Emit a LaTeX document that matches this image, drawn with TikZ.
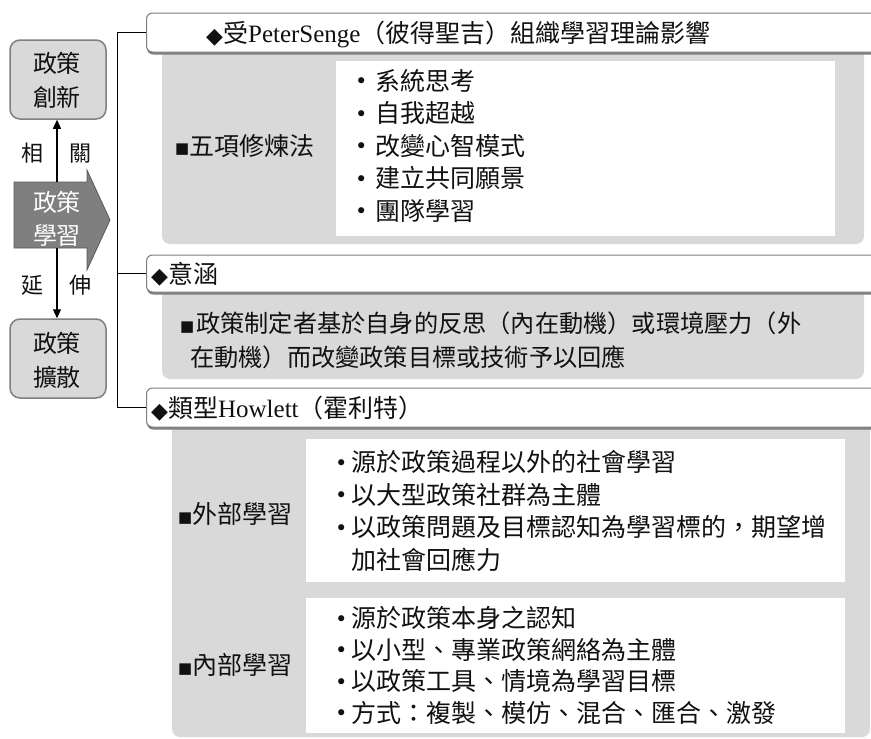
\documentclass[tikz,border=0pt]{standalone}
\usepackage{fontspec}
\setmainfont{Liberation Serif}
\newfontfamily\cjk{Noto Sans CJK TC}
\newfontfamily\dv{DejaVu Sans}
\usetikzlibrary{arrows.meta,shadows}
\definecolor{panelgray}{HTML}{D9D9D9}
\definecolor{edgegray}{HTML}{808080}
\definecolor{darkgray2}{HTML}{7F7F7F}
\definecolor{inkc}{HTML}{111111}
\newcommand\sq{{\dv\fontsize{15}{15}\selectfont\raisebox{1.5pt}{■}}}
\newcommand\dia{{\dv\fontsize{22}{22}\selectfont\raisebox{-0.5pt}{◆}}}
\newcommand\bul[1]{\makebox[#1][l]{\dv\fontsize{21}{21}\selectfont\raisebox{1.5pt}{•}}}
\tikzset{
  txt/.style={inner sep=0pt, anchor=base west, text=inkc, font=\cjk\fontsize{25}{25}\selectfont},
  smalltxt/.style={inner sep=0pt, anchor=base west, text=inkc, font=\cjk\fontsize{24.2}{24.2}\selectfont},
  lefttxt/.style={inner sep=0pt, anchor=base, text=inkc, font=\cjk\fontsize{24}{24}\selectfont},
  sidetxt/.style={inner sep=0pt, anchor=base, text=inkc, font=\cjk\fontsize{22}{22}\selectfont},
  leftbox/.style={draw=edgegray, fill=panelgray, line width=1.5pt, rounded corners=10pt,
    minimum width=96pt, minimum height=79pt, inner sep=0pt},
  header/.style={draw=darkgray2, fill=white, line width=1pt, rounded corners=6pt,
    minimum width=760pt, inner sep=0pt,
    drop shadow={shadow xshift=0.5pt, shadow yshift=-2.5pt, fill=darkgray2, opacity=1}},
  panel/.style={fill=panelgray, rounded corners=8pt},
  whitebox/.style={fill=white},
  tree/.style={draw=black, line width=1pt},
  conn/.style={draw=black, line width=1.2pt, -{Triangle[width=8pt,length=9pt]}},
}
\begin{document}
\begin{tikzpicture}[x=1pt,y=-1pt]
\path[use as bounding box] (0,0) rectangle (871,739);
\fill[white] (0,0) rectangle (871,739);

% ---------- left column ----------
\node[leftbox] (innov) at (58,79.5) {};
\node[lefttxt] (innov1) at (57,72) {政策};
\node[lefttxt] (innov2) at (57,106) {創新};

\node[leftbox] (diff) at (58,358.5) {};
\node[lefttxt] (diff1) at (57,352) {政策};
\node[lefttxt] (diff2) at (57,386) {擴散};

\fill[darkgray2, draw=black!65, line width=0.8pt]
  (14,182) -- (87,182) -- (87,170) -- (110,220) -- (87,270) -- (87,248) -- (14,248) -- cycle;
\coordinate (learnTop) at (57,182);
\coordinate (learnBot) at (57,248);
\node[lefttxt, text=white] (learn1) at (57,211) {政策};
\node[lefttxt, text=white] (learn2) at (57,244) {學習};

\draw[conn] (learnTop) -- (learnTop |- innov.south);
\draw[conn] (learnBot) -- (learnBot |- diff.north);

\node[sidetxt] (rel1) at (32,161.5) {相};
\node[sidetxt] (rel2) at (80,161.5) {關};
\node[sidetxt] (ext1) at (32,293.5) {延};
\node[sidetxt] (ext2) at (80,293.5) {伸};

% ---------- panels ----------
\fill[panel] (162,48) rectangle (864,244);
\fill[whitebox] (336,61) rectangle (835,236);

\fill[panel] (162,288) rectangle (864,379);

\fill[panel] (172,420) rectangle (870,737);
\fill[whitebox] (306,439) rectangle (845,582);
\fill[whitebox] (306,598) rectangle (845,733);

% ---------- headers ----------
\node[header, minimum height=39pt, anchor=west] (h1) at (146,32.5) {};
\node[header, minimum height=37pt, anchor=west] (h2) at (146,273.5) {};
\node[header, minimum height=39pt, anchor=west] (h3) at (146,407.5) {};

\node[txt] (h1t) at (206,42.5) {\dia 受{\rmfamily PeterSenge}（彼得聖吉）組織學習理論影響};
\node[txt] (h2t) at (151,283) {\dia 意涵};
\node[txt] (h3t) at (151,417.5) {\dia 類型{\rmfamily Howlett}（霍利特）};

% ---------- tree ----------
\coordinate (trunk) at (117,32.5);
\draw[tree] (h1.west) -- (trunk) |- (h3.west);
\draw[tree] (trunk |- h2.west) -- (h2.west);

% ---------- panel 1 ----------
\node[txt] (five) at (175,155) {\sq 五項修煉法};
\node[txt] (f1) at (355,90) {\bul{20pt}系統思考};
\node[txt] (f2) at (355,122.5) {\bul{20pt}自我超越};
\node[txt] (f3) at (355,155) {\bul{20pt}改變心智模式};
\node[txt] (f4) at (355,187.5) {\bul{20pt}建立共同願景};
\node[txt] (f5) at (355,220) {\bul{20pt}團隊學習};

% ---------- panel 2 ----------
\node[smalltxt] (m1) at (180,332.5) {\sq\hspace{2pt}政策制定者基於自身的反思（內在動機）或環境壓力（外};
\node[smalltxt] (m2) at (190,366.5) {在動機）而改變政策目標或技術予以回應};

% ---------- panel 3 ----------
\node[txt] (ext) at (178,523.5) {\sq 外部學習};
\node[txt] (e1) at (335,471.5) {\bul{16pt}源於政策過程以外的社會學習};
\node[txt] (e2) at (335,504) {\bul{16pt}以大型政策社群為主體};
\node[txt] (e3) at (335,536.5) {\bul{16pt}以政策問題及目標認知為學習標的，期望增};
\node[txt] (e4) at (351,569) {加社會回應力};

\node[txt] (int) at (178,674.5) {\sq 內部學習};
\node[txt] (i1) at (335,627.5) {\bul{16pt}源於政策本身之認知};
\node[txt] (i2) at (335,659) {\bul{16pt}以小型、專業政策網絡為主體};
\node[txt] (i3) at (335,690.5) {\bul{16pt}以政策工具、情境為學習目標};
\node[txt] (i4) at (335,722) {\bul{16pt}方式：複製、模仿、混合、匯合、激發};
\end{tikzpicture}
\end{document}
